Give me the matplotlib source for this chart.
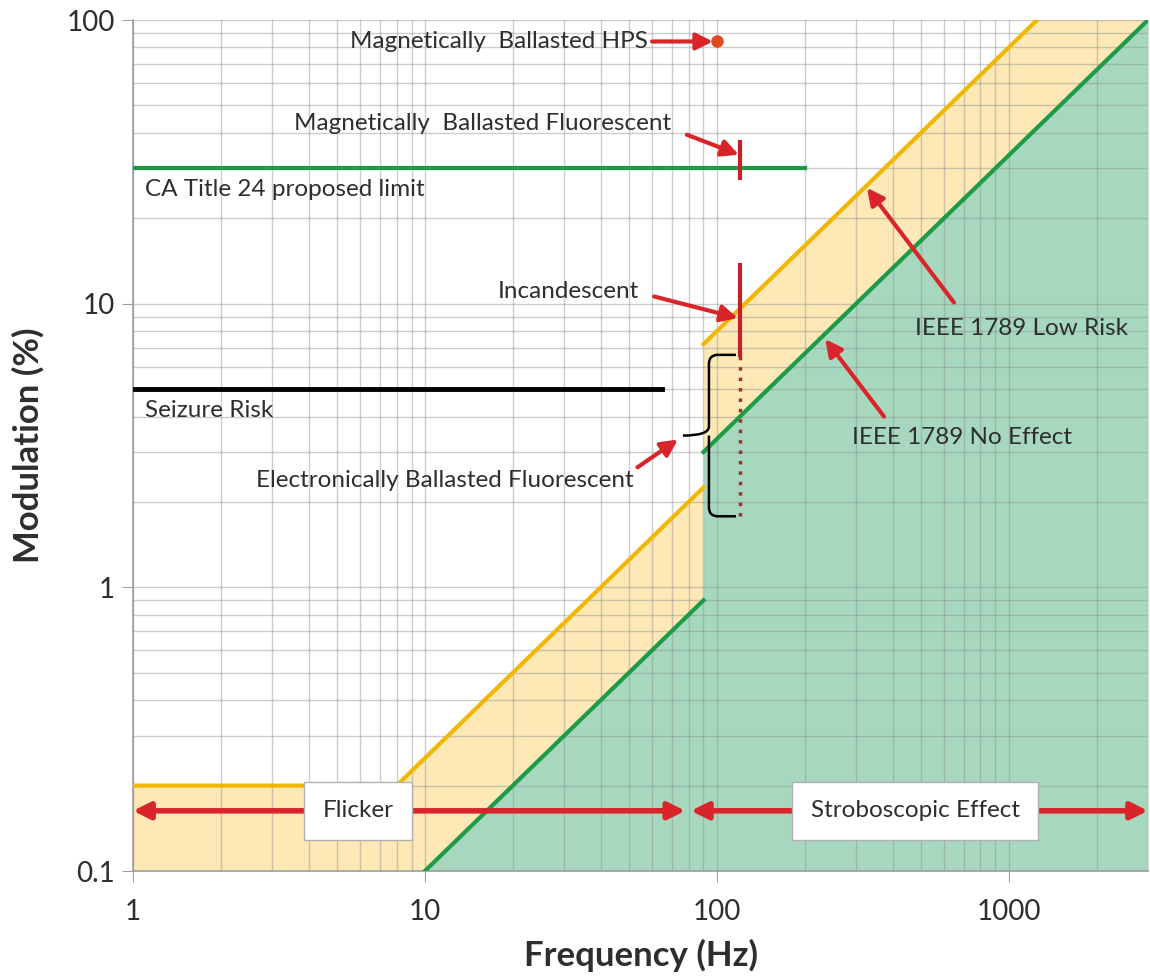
import numpy as np
import matplotlib
matplotlib.use("Agg")
import matplotlib.pyplot as plt
from matplotlib.path import Path
from matplotlib.patches import PathPatch
from matplotlib.transforms import IdentityTransform
from matplotlib.ticker import FixedLocator, FixedFormatter, NullFormatter, LogLocator

# IEEE 1789 curves (frequency Hz, modulation %)
low_risk_f = [1, 8, 90, 90, 3000]
low_risk_m = [0.2, 0.2, 2.25, 7.2, 240]
no_effect_f = [10, 90, 90, 3000]
no_effect_m = [0.1, 0.9, 3.0, 100]

# reference limits
ca_title24_f = [1, 200]
ca_title24_m = [30, 30]
seizure_f = [1, 65]
seizure_m = [5, 5]

# light sources
hps_f, hps_m = 100, 84
mag_fluor_f, mag_fluor_m = [120, 120], [27.8, 37.2]
incand_f, incand_m = [120, 120], [6.6, 13.7]
elec_fluor_f, elec_fluor_m = [120, 120], [1.78, 6.6]

# flicker / stroboscopic ranges
flicker_f = [1, 78]
strobe_f = [81.5, 3000]
band_m = 0.163

xticks = [1, 10, 100, 1000]
xticklabels = ["1", "10", "100", "1000"]
yticks = [0.1, 1, 10, 100]
yticklabels = ["0.1", "1", "10", "100"]

plt.rcParams['font.family'] = ['Lato', 'DejaVu Sans']
txt = '#2e2e2e'
red = '#D9252A'
darkred = '#C4202A'

fig = plt.figure(figsize=(11.5, 9.8), dpi=100)
ax = fig.add_axes([133 / 1150, 109 / 980, 1015 / 1150, 851 / 980])
ax.set_xscale('log')
ax.set_yscale('log')
ax.set_xlim(1, 3000)
ax.set_ylim(0.1, 100)

ax.fill_between(low_risk_f, low_risk_m, 0.1, color='#FDE8B6', lw=0, zorder=1)
ax.fill_between(no_effect_f, no_effect_m, 0.1, color='#A7D8BF', lw=0, zorder=1.1)
# lines are broken at the 90 Hz step
ax.plot(low_risk_f[:3], low_risk_m[:3], color='#F2B705', lw=3, zorder=4)
ax.plot(low_risk_f[3:], low_risk_m[3:], color='#F2B705', lw=3, zorder=4)
ax.plot(no_effect_f[:2], no_effect_m[:2], color='#1E9B48', lw=3, zorder=4)
ax.plot(no_effect_f[2:], no_effect_m[2:], color='#1E9B48', lw=3, zorder=4)

ax.plot(ca_title24_f, ca_title24_m, color='#1E9B48', lw=3, zorder=4)
ax.plot(seizure_f, seizure_m, color='black', lw=3.5, zorder=4)

ax.plot(hps_f, hps_m, 'o', color='#E04A1F', ms=8, zorder=5)
ax.plot(mag_fluor_f, mag_fluor_m, color=darkred, lw=3, zorder=5)
ax.plot(incand_f, incand_m, color=darkred, lw=3, zorder=5)
ax.plot(elec_fluor_f, elec_fluor_m, color='#A0302A', lw=2.5, ls=(0, (1, 2)), zorder=5)

# grid and ticks
ax.set_axisbelow(False)
ax.xaxis.set_major_locator(FixedLocator(xticks))
ax.xaxis.set_major_formatter(FixedFormatter(xticklabels))
ax.yaxis.set_major_locator(FixedLocator(yticks))
ax.yaxis.set_major_formatter(FixedFormatter(yticklabels))
ax.xaxis.set_minor_locator(LogLocator(base=10, subs=np.arange(2, 10), numticks=20))
ax.yaxis.set_minor_locator(LogLocator(base=10, subs=np.arange(2, 10), numticks=20))
ax.xaxis.set_minor_formatter(NullFormatter())
ax.yaxis.set_minor_formatter(NullFormatter())
ax.grid(True, which='both', color='#8a8a8a', alpha=0.42, lw=1)
ax.tick_params(which='minor', length=0)
ax.tick_params(which='major', length=8, color='#a0a0a0', labelsize=20, labelcolor=txt)
ax.tick_params(axis='x', pad=12)
ax.tick_params(axis='y', pad=5)
for s in ['top', 'right']:
    ax.spines[s].set_visible(False)
for s in ['left', 'bottom']:
    ax.spines[s].set_color('#a0a0a0')
    ax.spines[s].set_linewidth(1.2)

ax.set_xlabel('Frequency (Hz)', fontsize=25, fontweight='bold', color=txt, labelpad=10)
ax.set_ylabel('Modulation (%)', fontsize=25, fontweight='bold', color=txt, labelpad=16)

fs = 17.5
ax.text(1.1, 25.2, 'CA Title 24 proposed limit', fontsize=fs, color=txt, va='center', zorder=6)
ax.text(1.1, 4.2, 'Seizure Risk', fontsize=fs, color=txt, va='center', zorder=6)
ax.text(58, 84, 'Magnetically  Ballasted HPS', fontsize=fs, color=txt, va='center', ha='right', zorder=6)
ax.text(70, 43, 'Magnetically  Ballasted Fluorescent', fontsize=fs, color=txt, va='center', ha='right', zorder=6)
ax.text(54, 11.0, 'Incandescent', fontsize=fs, color=txt, va='center', ha='right', zorder=6)
ax.text(52, 2.38, 'Electronically Ballasted Fluorescent', fontsize=fs, color=txt, va='center', ha='right', zorder=6)
ax.text(478, 8.2, 'IEEE 1789 Low Risk', fontsize=fs, color=txt, va='center', zorder=6)
ax.text(291, 3.37, 'IEEE 1789 No Effect', fontsize=fs, color=txt, va='center', zorder=6)

arrow = dict(arrowstyle='-|>,head_length=1.0,head_width=0.5', color=red, lw=3, shrinkA=0, shrinkB=0)
ax.annotate('', xy=(97, 84), xytext=(60, 84), arrowprops=arrow, zorder=6)
ax.annotate('', xy=(119, 33.5), xytext=(79, 39.4), arrowprops=arrow, zorder=6)
ax.annotate('', xy=(118, 8.9), xytext=(61, 10.6), arrowprops=arrow, zorder=6)
ax.annotate('', xy=(73.6, 3.32), xytext=(53.5, 2.65), arrowprops=arrow, zorder=6)
ax.annotate('', xy=(327, 25.6), xytext=(649, 10.1), arrowprops=arrow, zorder=6)
ax.annotate('', xy=(235, 7.5), xytext=(374, 4.0), arrowprops=arrow, zorder=6)

# flicker / stroboscopic double arrows
darrow = dict(arrowstyle='<|-|>,head_length=1.0,head_width=0.5', color=red, lw=4, shrinkA=0, shrinkB=0)
ax.annotate('', xy=(flicker_f[0], band_m), xytext=(flicker_f[1], band_m), arrowprops=darrow, zorder=6)
ax.annotate('', xy=(strobe_f[0], band_m), xytext=(strobe_f[1], band_m), arrowprops=darrow, zorder=6)
box = dict(boxstyle='square,pad=0.75', fc='white', ec='#b0b0b0', lw=1)
ax.text(5.9, band_m, 'Flicker', fontsize=17.5, color=txt, ha='center', va='center', bbox=box, zorder=7)
ax.text(478, band_m, 'Stroboscopic Effect', fontsize=17.5, color=txt, ha='center', va='center', bbox=box, zorder=7)

# brace for electronically ballasted fluorescent range
tr = ax.transData
xa, yt = tr.transform((elec_fluor_f[0], elec_fluor_m[1]))
_, yb = tr.transform((elec_fluor_f[0], elec_fluor_m[0]))
xa -= 4
xl = xa - 27
xt = xl - 26
ym = (yt + yb) / 2
r = 9
verts = [(xa, yt), (xl + r, yt), (xl, yt), (xl, yt - r), (xl, ym + r), (xl, ym), (xt, ym),
         (xl, ym), (xl, ym - r), (xl, yb + r), (xl, yb), (xl + r, yb), (xa, yb)]
codes = [Path.MOVETO, Path.LINETO, Path.CURVE3, Path.CURVE3, Path.LINETO, Path.CURVE3, Path.CURVE3,
         Path.MOVETO, Path.CURVE3, Path.LINETO, Path.CURVE3, Path.CURVE3, Path.LINETO]
ax.add_patch(PathPatch(Path(verts, codes), fill=False, ec='black', lw=1.8,
                       transform=IdentityTransform(), zorder=6))

fig.savefig('out.png', dpi=100)
